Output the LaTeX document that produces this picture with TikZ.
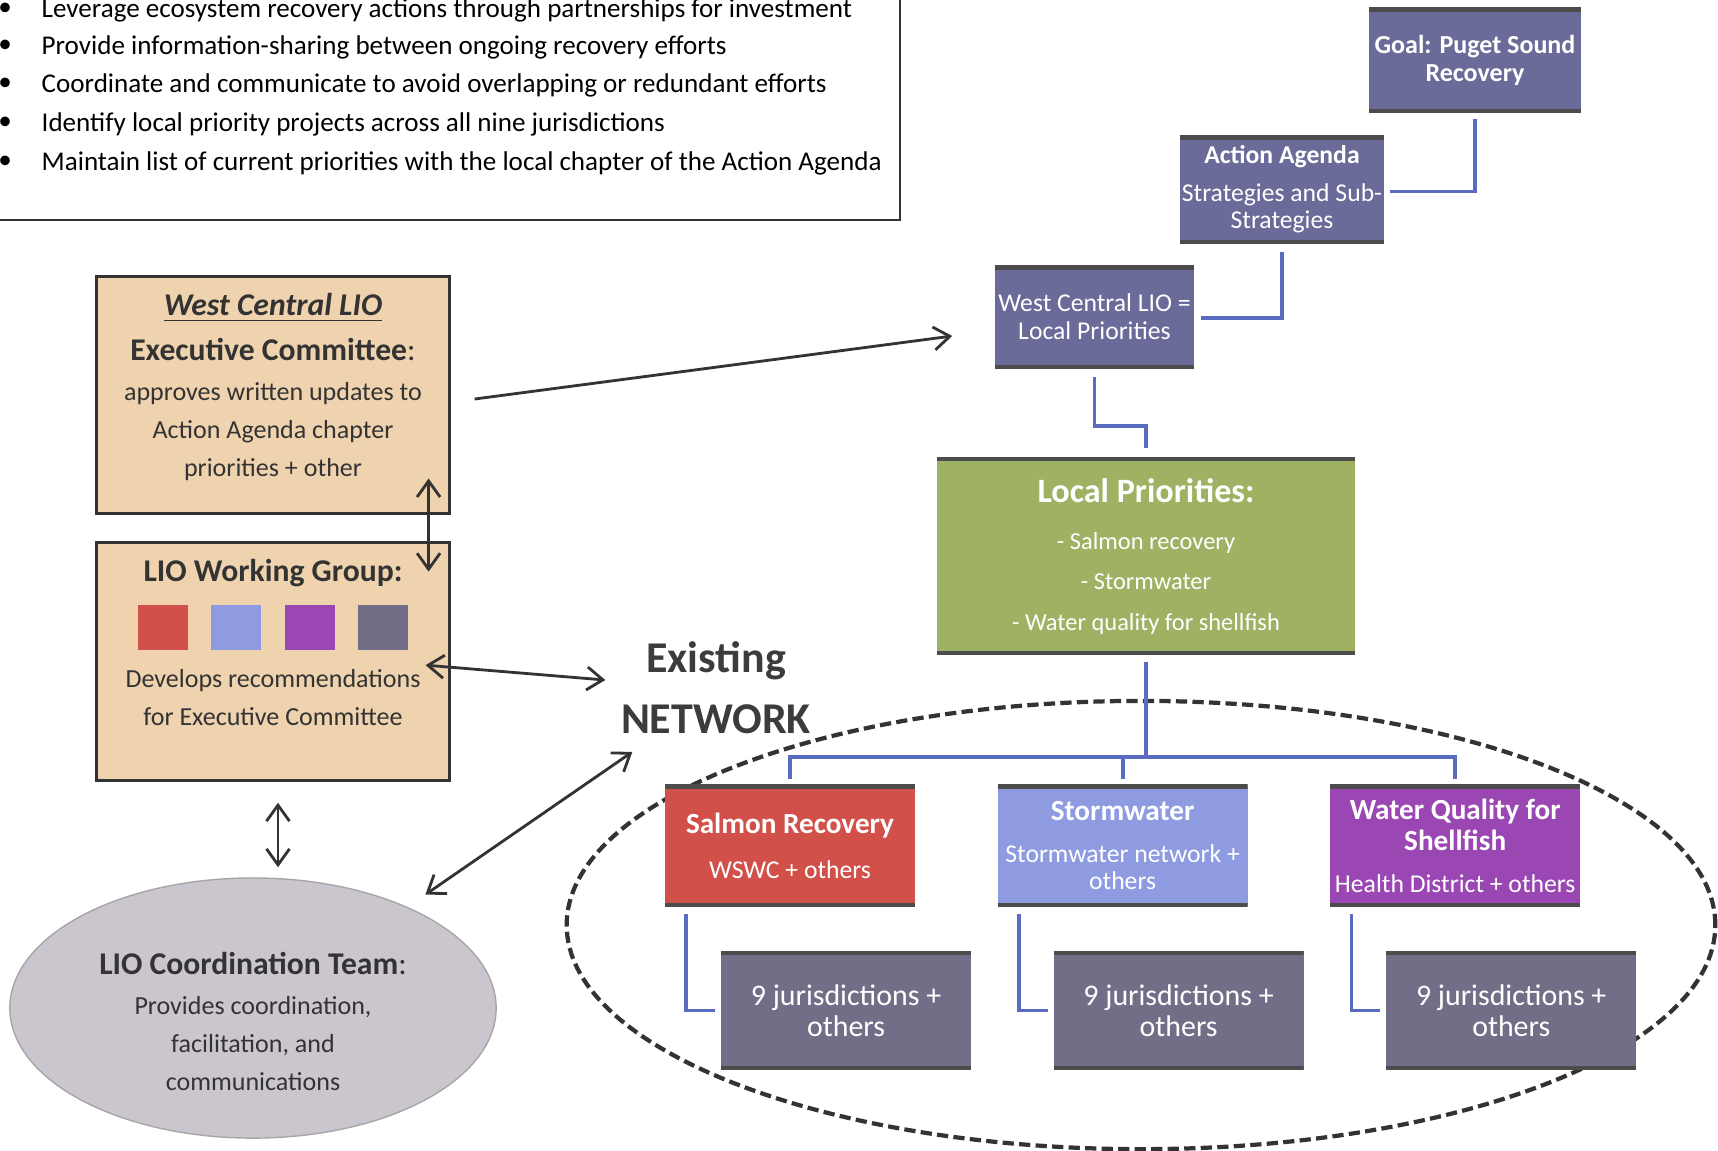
\documentclass[tikz,border=0pt]{standalone}
\usepackage{fontspec}
\setmainfont{Carlito}
\usepackage{tikz}
\usetikzlibrary{arrows.meta,positioning,calc,shapes.geometric,backgrounds}
\def\catwidth{2.5cm}
\def\catheight{1.21cm}
\def\catsep{8.1mm}
\newcommand{\paneltitle}[1]{{\fontsize{9}{11}\selectfont\bfseries #1}}
\newcommand{\cattitle}[1]{{\fontsize{8.3}{10}\selectfont\bfseries #1}}
\newcommand{\swatch}[1]{\textcolor{#1}{\rule{5mm}{4.5mm}}}
\definecolor{ink}{HTML}{333333}
\definecolor{sand}{HTML}{EFD3AF}
\definecolor{slate}{HTML}{6A6B98}
\definecolor{dusk}{HTML}{716F88}
\definecolor{meadow}{HTML}{9FB162}
\definecolor{salmonred}{HTML}{D2504A}
\definecolor{stormblue}{HTML}{8F9BE0}
\definecolor{shellpurple}{HTML}{9B47B3}
\definecolor{linkblue}{HTML}{5A6CC2}
\definecolor{fog}{HTML}{CBC6CE}
\definecolor{labelgray}{HTML}{3C3C3C}

\begin{document}
\begin{tikzpicture}[x=0.01cm, y=-0.01cm,
    >={Straight Barb[length=1.6mm,width=2.3mm]},
    myarrow/.style={->, draw=ink, line width=0.8pt},
    bothways/.style={<->, draw=ink, line width=0.8pt},
    edged/.style={path picture={\draw[black!70, line width=2pt]
        (path picture bounding box.north west) -- (path picture bounding box.north east)
        (path picture bounding box.south west) -- (path picture bounding box.south east);}}]
    \tikzstyle{panel}=[rectangle, draw=ink, line width=0.85pt, fill=sand, text=ink, align=center, inner sep=0pt, minimum width=3.52cm]
    \tikzstyle{tier}=[rectangle, fill=slate, edged, text=white, align=center, inner sep=0pt]
    \tikzstyle{category}=[tier, minimum width=\catwidth, minimum height=\catheight, font=\fontsize{7.3}{7.7}\selectfont]
    \tikzstyle{jurbox}=[tier, fill=dusk, minimum width=\catwidth, minimum height=1.18cm, font=\fontsize{8.5}{8.8}\selectfont]
    \tikzstyle{aimtext}=[inner sep=0pt, anchor=west, text height=5pt, text depth=0pt, font=\fontsize{7.7}{9}\selectfont, text=black]
    \tikzstyle{aimdot}=[inner sep=0pt, font=\fontsize{7.7}{9}\selectfont]
    \tikzstyle{link}=[draw=linkblue, line width=1.1pt]
    \useasboundingbox (0,0) rectangle (1718,1150);

    % Aims of the LIO
    \foreach \i/\y/\txt in {1/9/Leverage ecosystem recovery actions through partnerships for investment,
        2/46/Provide information-sharing between ongoing recovery efforts,
        3/84/Coordinate and communicate to avoid overlapping or redundant efforts,
        4/123/Identify local priority projects across all nine jurisdictions,
        5/162/Maintain list of current priorities with the local chapter of the Action Agenda}
    {
        \node[aimdot] (dot-\i) at (5,\y) {\textbullet};
        \node[aimtext] (aim-\i) at (41,\y) {\txt};
    }

    % Draw the nodes
    \node[panel, minimum height=2.36cm, font=\fontsize{7.4}{10.8}\selectfont] (exec) at (273,395)
        {\paneltitle{\itshape\underline{West Central LIO}}\\[2pt]
         \paneltitle{Executive Committee\mdseries:}\\[0.6pt]
         approves written updates to\\Action Agenda chapter\\priorities + other\rule[-5.7pt]{0pt}{0pt}};
    \node[panel, minimum height=2.38cm, below=2.6mm of exec, font=\fontsize{7.4}{10.8}\selectfont] (wg)
        {\paneltitle{LIO Working Group:}\\[4pt]
         \swatch{salmonred}\hspace{2.3mm}\swatch{stormblue}\hspace{2.3mm}\swatch{shellpurple}\hspace{2.3mm}\swatch{dusk}\\
         Develops recommendations\\for Executive Committee\rule[-10.5pt]{0pt}{0pt}};
    \node[ellipse, fill=fog, draw=black!35, line width=0.4pt, minimum width=4.86cm, minimum height=2.6cm, inner sep=0pt,
          align=center, text=ink, font=\fontsize{7.4}{10.8}\selectfont] (coord) at (253,1008)
        {\rule{0pt}{14pt}\paneltitle{LIO Coordination Team\mdseries:}\\[0.6pt]
         Provides coordination,\\facilitation, and\\communications};
    \node[align=center, inner sep=0pt, text=labelgray, font=\fontsize{12.5}{17.4}\selectfont\bfseries] (netlbl) at (716,688) {Existing\\NETWORK};

    \node[tier, minimum width=2.12cm, minimum height=1.04cm, font=\fontsize{7.4}{8}\selectfont\bfseries] (goal) at (1475,60)
        {Goal: Puget Sound\\Recovery};
    \node[tier, minimum width=2.04cm, minimum height=1.07cm, font=\fontsize{7.3}{7.7}\selectfont] (agenda) at (1282,189.5)
        {{\bfseries Action Agenda}\\[3.1pt]Strategies and Sub-\\Strategies};
    \node[tier, minimum width=1.99cm, minimum height=1.02cm, font=\fontsize{7.3}{8}\selectfont] (wclio) at (1094.5,317)
        {West Central LIO =\\Local Priorities};
    \node[tier, fill=meadow, minimum width=4.18cm, minimum height=1.96cm, font=\fontsize{6.95}{11.5}\selectfont] (localp) at (1146,556)
        {{\fontsize{9.7}{11}\selectfont\bfseries Local Priorities:}\\[1.9pt]- Salmon recovery\\- Stormwater\\- Water quality for shellfish};

    \node[category, fill=salmonred] (cat-1) at (790,845.5) {\cattitle{Salmon Recovery}\\[5.1pt]WSWC + others};
    \node[category, fill=stormblue, right=\catsep of cat-1] (cat-2) {\cattitle{Stormwater}\\[4.5pt]Stormwater network +\\others};
    \node[category, fill=shellpurple, right=\catsep of cat-2] (cat-3)
        {\cattitle{Water Quality for}\\[1.1pt]\cattitle{Shellfish}\\[4.3pt]Health District + others};

    \foreach \n in {1,2,3}
        \node[jurbox, below=4.4mm of cat-\n, xshift=5.6mm] (jur-\n) {9 jurisdictions +\\others};

    % Connect the hierarchy
    \draw[link] ($(goal.south)+(0,6)$) |- ($(agenda.east)+(5,2)$);
    \draw[link] ($(agenda.south)+(0,8)$) |- ($(wclio.east)+(6,1)$);
    \draw[link] ($(wclio.south)+(0,8)$) -- ++(0,49) -| ($(localp.north)+(0,-9)$);
    \draw[link] ($(localp.south)+(0,7)$) -- ++(0,95);
    \foreach \n in {1,2,3}
        \draw[link] ($(cat-\n.north)+(0,-5)$) |- ($(localp.south)+(0,102)$);
    \foreach \n in {1,2,3}
        \draw[link] ($(cat-\n.south west)+(22,7)$) |- ($(jur-\n.west)+(-5,0)$);

    % Arrows between the groups
    \draw[bothways] ($(exec.south east)+(-22,-36)$) -- ($(wg.north east)+(-22,31)$);
    \draw[myarrow] ($(exec.east)+(24,4)$) -- ($(wclio.west)+(-42,19)$);
    \draw[bothways] ($(wg.east)+(-25,4)$) -- ($(netlbl.west)+(-15,-8)$);
    \draw[bothways] ($(wg.south)+(5,21)$) -- ($(coord.north)+(25,-10)$);
    \draw[bothways] ($(coord.north east)+(0,-21)$) -- ($(netlbl.south west)+(12,17)$);

    \begin{scope}[on background layer]
        \draw[draw=ink, line width=0.6pt] (-50,-50) rectangle (900,220);
        \draw[draw=ink, dash pattern=on 3.2pt off 1.5pt, line width=1.2pt] (1141,925) ellipse [x radius=5.74cm, y radius=2.24cm];
    \end{scope}
\end{tikzpicture}
\end{document}
